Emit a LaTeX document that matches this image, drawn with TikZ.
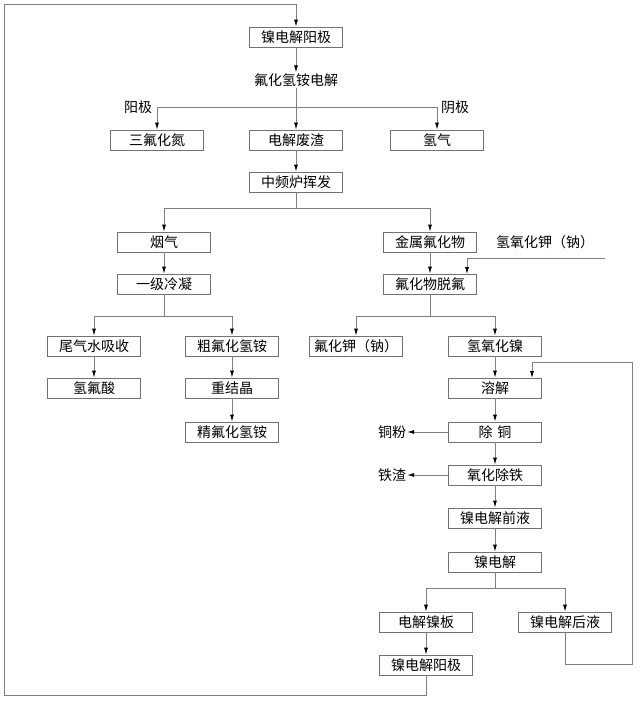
\documentclass[tikz,border=0pt]{standalone}
\usepackage{fontspec}
\setmainfont{Noto Sans CJK SC}
\usetikzlibrary{arrows.meta}
\begin{document}
\begin{tikzpicture}[x=1pt,y=-1pt,
  box/.style={draw=black!55,line width=0.8pt,minimum width=93pt,minimum height=20pt,inner sep=0pt,font=\fontsize{14}{14}\selectfont},
  txt/.style={inner sep=1pt,font=\fontsize{14}{14}\selectfont},
  ln/.style={draw=black!50,line width=0.8pt},
  ar/.style={ln,-{Latex[length=7pt,width=4pt,black]}}]
\useasboundingbox (0,0) rectangle (640,704);
\node[box] (a1) at (296,37) {镍电解阳极};
\node[txt] (e1) at (296,80) {氟化氢铵电解};
\node[txt] (yj) at (138,107) {阳极};
\node[txt] (ij) at (455,107) {阴极};
\node[box] (nf) at (157,140) {三氟化氮};
\node[box] (fz) at (296,140) {电解废渣};
\node[box] (h2) at (437,140) {氢气};
\node[box] (zp) at (296,182) {中频炉挥发};
\node[box] (yq) at (164,242) {烟气};
\node[box] (js) at (430,242) {金属氟化物};
\node[txt] (koh) at (545,242) {氢氧化钾（钠）};
\node[box] (lj) at (164,284) {一级冷凝};
\node[box] (tf) at (430,284) {氟化物脱氟};
\node[box] (wq) at (94,346) {尾气水吸收};
\node[box] (cf) at (232,346) {粗氟化氢铵};
\node[box] (kf) at (356,346) {氟化钾（钠）};
\node[box] (ni) at (495,346) {氢氧化镍};
\node[box] (hf) at (94,388) {氢氟酸};
\node[box] (cj) at (232,388) {重结晶};
\node[box] (jf) at (232,432) {精氟化氢铵};
\node[box] (rj) at (495,388) {溶解};
\node[box] (ct) at (495,432) {除\,\,铜};
\node[txt] (tfen) at (392,432) {铜粉};
\node[box] (tie) at (495,475) {氧化除铁};
\node[txt] (tz) at (392,475) {铁渣};
\node[box] (qy) at (495,518) {镍电解前液};
\node[box] (nd) at (495,562) {镍电解};
\node[box] (nb) at (426,622) {电解镍板};
\node[box] (hy) at (565,622) {镍电解后液};
\node[box] (a2) at (426,665) {镍电解阳极};
\coordinate (kin) at (605,258);

\draw[ar] (a1) -- (e1);
\draw[ln] (e1) -- (296,107);
\draw[ar] (296,107) -| (nf.north);
\draw[ar] (296,107) -| (h2.north);
\draw[ar] (296,107) -- (fz);
\draw[ar] (fz) -- (zp);
\draw[ln] (zp) -- (296,208);
\draw[ar] (296,208) -| (yq.north);
\draw[ar] (296,208) -| (js.north);
\draw[ar] (yq) -- (lj);
\draw[ar] (js) -- (tf);
\draw[ar] (kin) -| (467,274);
\draw[ln] (lj) -- (164,316);
\draw[ar] (164,316) -| (wq.north);
\draw[ar] (164,316) -| (cf.north);
\draw[ar] (wq) -- (hf);
\draw[ar] (cf) -- (cj);
\draw[ar] (cj) -- (jf);
\draw[ln] (tf) -- (430,316);
\draw[ar] (430,316) -| (kf.north);
\draw[ar] (430,316) -| (ni.north);
\draw[ar] (ni) -- (rj);
\draw[ar] (rj) -- (ct);
\draw[ar] (ct) -- (tfen);
\draw[ar] (ct) -- (tie);
\draw[ar] (tie) -- (tz);
\draw[ar] (tie) -- (qy);
\draw[ar] (qy) -- (nd);
\draw[ln] (nd) -- (495,588);
\draw[ar] (495,588) -| (nb.north);
\draw[ar] (495,588) -| (hy.north);
\draw[ar] (nb) -- (a2);
\draw[ar] (hy.south) -- (565,664) -- (632,664) -- (632,362) -- (532,362) -- (532,378);
\draw[ar] (a2.south) -- (426,695) -- (4,695) -- (4,4) -- (296,4) -- (a1.north);
\end{tikzpicture}
\end{document}
